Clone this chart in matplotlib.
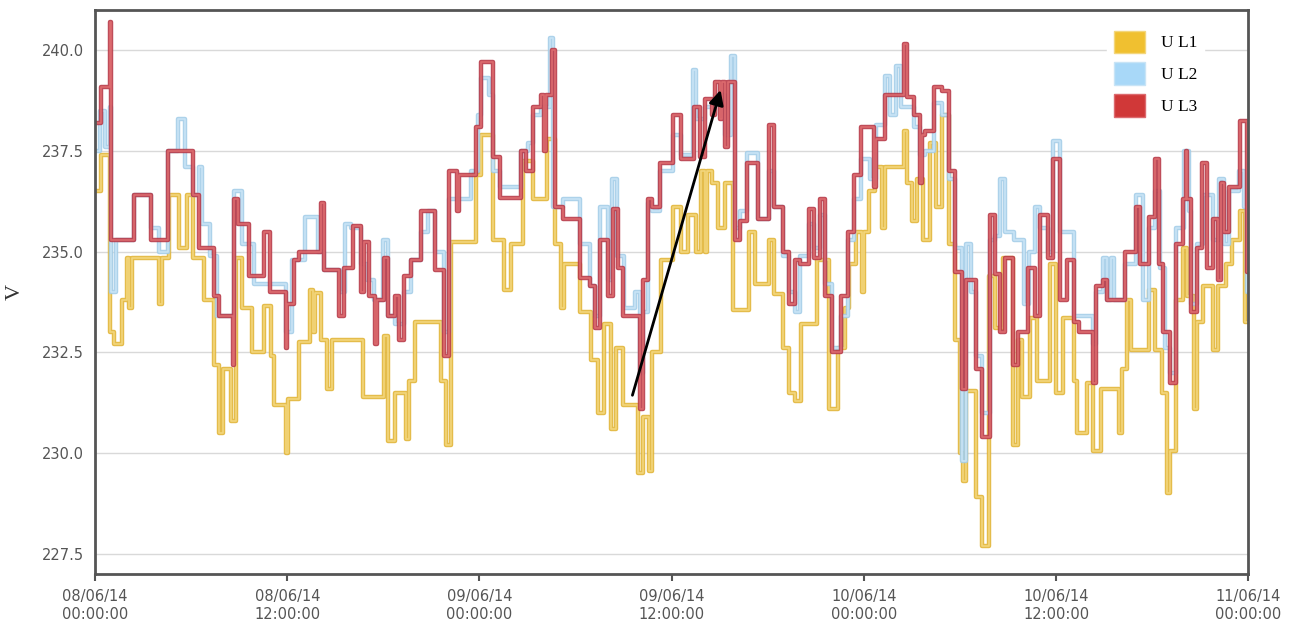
import matplotlib
matplotlib.use("Agg")
import matplotlib.pyplot as plt
import matplotlib.patheffects as pe
from matplotlib.patches import Patch

# uren vanaf 08/06/14 00:00, stapwaarden (spanning in V)
t_l1 = [0, 0.4, 0.92, 1.2, 1.7, 2.0, 2.1, 2.3, 4.0, 4.2, 4.6, 5.25, 5.77, 6.1, 6.8, 7.44, 7.75, 7.96,
        8.5, 8.8, 9.2, 9.8, 10.56, 11.0, 11.2, 11.9, 12.05, 12.75, 13.4, 13.6, 13.7, 14.1, 14.5, 14.8,
        16.7, 18.06, 18.27, 18.7, 19.4, 19.6, 20.0, 21.6, 21.9, 22.2, 23.8, 24.1, 24.83, 25.56, 25.98,
        26.7, 27.33, 28.2, 28.7, 29.1, 29.3, 30.25, 30.98, 31.4, 31.8, 32.2, 32.5, 32.96, 33.9, 34.2,
        34.6, 34.8, 35.35, 36.1, 36.6, 37.0, 37.5, 37.8, 38.1, 38.2, 38.5, 38.9, 39.3, 39.8, 40.8, 41.2,
        42.1, 42.4, 42.96, 43.3, 43.7, 44.1, 45.1, 45.8, 46.4, 46.8, 47.1, 47.5, 47.9, 48.0, 48.3, 48.7,
        49.1, 49.3, 50.5, 50.7, 51.0, 51.3, 51.7, 52.1, 52.5, 52.85, 53.3, 53.7, 54.0, 54.2, 54.4, 55.0,
        55.35, 55.8, 56.2, 56.7, 57.3, 57.6, 57.9, 58.4, 58.8, 59.6, 60.0, 60.4, 61.1, 61.3, 61.9, 62.3,
        62.8, 63.9, 64.1, 64.4, 64.7, 65.8, 66.2, 66.6, 66.9, 67.1, 67.5, 67.9, 68.2, 68.6, 68.8, 69.2,
        69.8, 70.1, 70.6, 71.0, 71.5, 71.8]
u_l1 = [236.5, 237.4, 233.0, 232.7, 233.8, 234.85, 233.6, 234.85, 233.7, 234.85, 236.4, 235.1, 236.4,
        234.85, 233.8, 232.2, 230.5, 232.1, 230.8, 234.85, 233.6, 232.5, 233.65, 232.4, 231.2, 230.0,
        231.35, 232.75, 234.05, 233.0, 233.97, 232.8, 231.6, 232.8, 231.4, 232.9, 230.3, 231.5, 230.35,
        231.8, 233.25, 231.8, 230.2, 235.25, 236.9, 237.9, 235.3, 234.05, 235.2, 237.25, 236.3, 237.8,
        235.2, 233.6, 234.7, 233.5, 232.3, 231.0, 233.2, 230.6, 232.6, 231.2, 229.5, 230.9, 229.55,
        232.5, 234.8, 236.1, 235.0, 235.9, 235.0, 237.0, 235.0, 237.0, 236.7, 235.6, 236.7, 233.55,
        235.5, 234.2, 235.3, 233.95, 232.6, 231.5, 231.3, 233.2, 234.8, 231.1, 232.6, 233.6, 234.7,
        235.5, 234.0, 235.5, 236.5, 237.1, 235.6, 237.1, 238.0, 236.7, 235.75, 236.8, 235.3, 237.7,
        236.1, 238.4, 235.2, 232.8, 230.0, 229.3, 231.55, 228.9, 227.7, 234.4, 233.1, 234.85, 230.2,
        232.8, 231.4, 233.35, 231.8, 234.7, 231.5, 233.35, 231.8, 230.5, 231.75, 230.05, 231.6, 230.5,
        232.1, 233.8, 232.55, 234.05, 232.55, 231.5, 229.0, 230.05, 233.8, 235.1, 233.9, 231.1, 233.25,
        234.15, 232.55, 234.15, 234.7, 235.3, 236.0, 233.25]

t_l2 = [0, 0.3, 0.6, 0.92, 1.02, 1.3, 2.44, 3.48, 4.0, 4.55, 5.2, 5.6, 6.1, 6.5, 6.7, 7.2, 7.6, 8.7,
        9.2, 9.9, 11.9, 12.3, 13.1, 13.9, 14.3, 15.3, 15.6, 16.0, 16.6, 17.0, 17.4, 18.0, 18.3, 18.7,
        19.3, 19.7, 20.35, 20.8, 21.2, 21.8, 22.1, 23.5, 23.9, 24.1, 24.6, 24.83, 25.25, 26.6, 27.0,
        27.33, 27.85, 28.4, 28.6, 29.2, 30.25, 30.9, 31.2, 31.5, 32.0, 32.3, 32.6, 33.0, 33.7, 34.0,
        34.2, 34.5, 34.8, 35.25, 36.1, 36.6, 37.3, 37.5, 38.1, 38.7, 39.3, 39.7, 39.94, 40.25, 40.7,
        41.4, 42.1, 42.4, 42.96, 43.3, 43.7, 44.0, 44.6, 44.9, 45.25, 45.56, 45.98, 46.6, 47.0, 47.4,
        47.85, 48.4, 48.75, 49.3, 49.6, 50.0, 50.3, 51.1, 51.5, 51.8, 52.4, 52.85, 53.3, 53.7, 54.1,
        54.4, 54.7, 55.0, 55.35, 55.9, 56.2, 56.5, 56.8, 57.4, 58.0, 58.3, 58.7, 59.0, 59.5, 59.8,
        60.25, 61.1, 62.3, 62.5, 62.9, 63.2, 63.4, 63.6, 64.3, 65.0, 65.4, 65.8, 66.2, 66.5, 66.8,
        67.1, 67.5, 68.0, 68.3, 68.4, 68.8, 69.2, 69.8, 70.2, 70.5, 70.8, 71.4, 71.7, 71.9]
u_l2 = [237.5, 238.5, 237.6, 238.6, 234.0, 235.3, 236.4, 235.6, 235.0, 237.5, 238.3, 237.1, 236.4,
        237.1, 235.7, 234.9, 233.4, 236.5, 235.2, 234.2, 233.0, 234.8, 235.85, 235.0, 234.55, 234.0,
        235.7, 235.6, 234.7, 234.3, 233.8, 235.3, 233.4, 233.2, 234.0, 234.8, 235.5, 236.0, 235.0,
        233.0, 236.3, 237.0, 238.4, 239.3, 238.9, 237.0, 236.6, 237.5, 237.7, 238.4, 238.6, 240.3,
        236.1, 236.3, 235.2, 234.15, 233.4, 236.1, 234.3, 236.8, 234.9, 233.6, 234.0, 232.0, 233.5,
        236.2, 236.0, 237.0, 237.9, 237.4, 239.5, 238.3, 238.6, 238.9, 237.9, 239.85, 235.6, 236.0,
        237.45, 235.8, 237.0, 236.1, 234.9, 234.0, 233.5, 234.9, 235.7, 235.1, 235.9, 234.2, 232.6,
        233.4, 235.3, 236.3, 237.3, 236.8, 238.15, 239.35, 238.4, 239.6, 238.6, 238.1, 237.4, 237.5,
        238.7, 238.4, 236.8, 235.1, 229.8, 235.2, 234.0, 232.4, 231.0, 235.3, 235.4, 236.8, 235.5,
        235.3, 233.7, 235.0, 236.1, 235.6, 235.0, 237.75, 235.5, 233.4, 232.7, 234.0, 234.85, 233.8,
        234.85, 233.8, 234.7, 236.4, 233.8, 235.6, 236.5, 234.6, 232.6, 232.0, 235.6, 237.5, 236.0,
        233.7, 235.2, 236.4, 235.3, 236.8, 235.2, 236.5, 237.0, 236.1, 234.0]

t_l3 = [0, 0.35, 0.92, 1.02, 2.44, 3.48, 4.55, 6.1, 6.5, 7.44, 7.75, 8.6, 8.7, 8.9, 9.6, 10.56, 10.9,
        11.9, 12.0, 12.4, 12.75, 14.1, 14.3, 15.25, 15.56, 16.08, 16.6, 16.8, 17.1, 17.5, 17.6, 18.06,
        18.27, 18.7, 19.0, 19.3, 19.7, 20.35, 21.2, 21.8, 22.1, 22.6, 22.7, 23.8, 24.1, 24.83, 25.25,
        26.6, 26.9, 27.33, 27.85, 28.0, 28.15, 28.5, 28.7, 29.2, 30.25, 30.9, 31.2, 31.5, 32.0, 32.33,
        32.65, 32.96, 34.0, 34.2, 34.5, 34.8, 35.25, 36.1, 36.6, 37.4, 37.75, 38.1, 38.5, 38.7, 39.0,
        39.15, 39.3, 39.5, 39.94, 40.25, 40.7, 41.4, 42.1, 42.4, 42.96, 43.3, 43.7, 44.0, 44.6, 44.9,
        45.25, 45.56, 45.98, 46.6, 47.0, 47.4, 47.85, 48.6, 48.75, 49.3, 50.5, 50.7, 51.1, 51.5, 51.65,
        51.8, 52.4, 52.85, 53.3, 53.7, 54.1, 54.4, 55.0, 55.35, 55.9, 56.2, 56.5, 56.8, 57.3, 57.6,
        58.25, 58.7, 59.0, 59.5, 59.8, 60.25, 60.7, 61.1, 61.4, 62.3, 62.5, 62.9, 63.2, 64.3, 65.0,
        65.25, 65.8, 66.2, 66.4, 66.7, 67.1, 67.5, 67.9, 68.1, 68.2, 68.4, 68.8, 69.1, 69.4, 69.8,
        70.1, 70.3, 70.5, 70.8, 71.5, 71.9]
u_l3 = [238.2, 239.1, 240.7, 235.3, 236.4, 235.3, 237.5, 236.4, 235.1, 233.9, 233.4, 232.2, 236.3,
        235.7, 234.4, 235.5, 234.0, 232.6, 233.7, 234.8, 235.0, 236.2, 234.55, 233.4, 234.6, 235.65,
        234.0, 235.25, 233.9, 232.7, 233.8, 234.85, 233.4, 233.9, 232.8, 234.4, 234.8, 236.0, 234.55,
        232.4, 237.0, 236.0, 236.9, 238.1, 239.7, 237.35, 236.33, 237.5, 237.0, 238.6, 238.9, 237.5,
        238.9, 240.0, 236.1, 235.8, 234.35, 234.15, 233.1, 235.3, 233.9, 236.05, 234.6, 233.4, 231.1,
        234.3, 236.3, 236.1, 237.2, 238.4, 237.3, 238.6, 237.35, 238.8, 238.4, 239.2, 238.3, 239.2,
        237.6, 239.2, 235.3, 235.75, 237.2, 235.8, 238.15, 236.1, 235.0, 233.7, 234.8, 234.7, 236.05,
        234.85, 236.3, 233.9, 232.5, 233.9, 235.5, 236.9, 238.1, 236.6, 237.8, 238.9, 240.15, 238.85,
        238.4, 236.7, 237.9, 238.0, 239.1, 239.0, 237.0, 234.5, 231.6, 234.3, 232.1, 230.4, 235.9,
        234.45, 233.0, 234.85, 232.2, 233.0, 234.6, 233.4, 235.9, 234.85, 237.3, 233.8, 234.8, 233.25,
        233.0, 231.75, 234.15, 234.3, 233.8, 235.0, 236.1, 234.7, 235.85, 237.3, 234.7, 233.0, 231.75,
        235.2, 236.3, 237.5, 236.3, 233.5, 235.1, 237.2, 234.6, 235.8, 234.3, 236.7, 235.5, 236.6,
        238.25, 234.5]

reeksen = [("U L1", t_l1, u_l1, "#e2b537", "#f3d67c", "#f0c030"),
           ("U L2", t_l2, u_l2, "#a4cde8", "#c8e4f6", "#a8d8f8"),
           ("U L3", t_l3, u_l3, "#b83a48", "#dc6a6e", "#d03838")]

tick_uren = [0, 12, 24, 36, 48, 60, 72]
tick_labels = ["08/06/14\n00:00:00", "08/06/14\n12:00:00", "09/06/14\n00:00:00",
               "09/06/14\n12:00:00", "10/06/14\n00:00:00", "10/06/14\n12:00:00",
               "11/06/14\n00:00:00"]

fig = plt.figure(figsize=(13.04, 6.44), dpi=100)
ax = fig.add_axes([0.0729, 0.1087, 0.8844, 0.8758])

for naam, t, u, rand, binnen, leg in reeksen:
    tt = t + [72]
    uu = u + [u[-1]]
    ax.step(tt, uu, where="post", color=binnen, lw=1.2,
            path_effects=[pe.Stroke(linewidth=3.2, foreground=rand, alpha=0.9), pe.Normal()])

ax.set_xlim(0, 72)
ax.set_ylim(227.0, 241.0)
ax.set_yticks([227.5, 230.0, 232.5, 235.0, 237.5, 240.0])
ax.set_yticklabels(["227.5", "230.0", "232.5", "235.0", "237.5", "240.0"])
ax.set_xticks(tick_uren)
ax.set_xticklabels(tick_labels)
ax.grid(axis="y", color="#d9d9d9", lw=1)
ax.set_axisbelow(True)
ax.tick_params(axis="y", length=0, labelsize=10.5, labelcolor="#555555", pad=8)
ax.tick_params(axis="x", length=5, width=1.5, color="#555555", labelsize=10.5,
               labelcolor="#555555", pad=6)
for s in ax.spines.values():
    s.set_color("#555555")
    s.set_linewidth(2)
ax.set_ylabel("V", fontsize=16, fontfamily="Liberation Serif", color="#333333", labelpad=12)

ax.annotate("", xy=(39.1, 239.08), xytext=(33.5, 231.37),
            arrowprops=dict(arrowstyle="-|>", color="black", lw=2, mutation_scale=22))

handles = [Patch(facecolor=r[5], edgecolor=r[4], label=r[0]) for r in reeksen]
leg = ax.legend(handles=handles, loc="upper right", bbox_to_anchor=(0.966, 0.985),
                frameon=True, fancybox=False, framealpha=1, edgecolor="white",
                prop={"family": "Liberation Serif", "size": 12.5},
                handlelength=1.8, handleheight=1.6, handletextpad=0.9, labelspacing=0.55,
                borderaxespad=0.3)

fig.savefig("out.png", dpi=100)
